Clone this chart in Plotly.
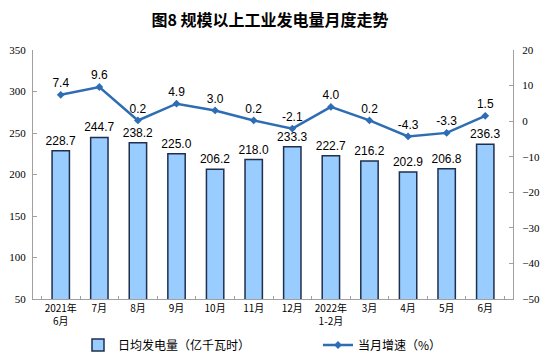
import plotly.graph_objects as go

categories = ["2021年<br>6月", "7月", "8月", "9月", "10月", "11月", "12月",
              "2022年<br>1-2月", "3月", "4月", "5月", "6月"]
daily_output = [228.7, 244.7, 238.2, 225.0, 206.2, 218.0, 233.3, 222.7, 216.2, 202.9, 206.8, 236.3]
growth = [7.4, 9.6, 0.2, 4.9, 3.0, 0.2, -2.1, 4.0, 0.2, -4.3, -3.3, 1.5]

bar_name = "日均发电量（亿千瓦时）"
line_name = "当月增速（%）"

# The page body adds an 8px offset, so the figure is sized 8px smaller each way.
W, H = 545, 353

fig = go.Figure()
fig.add_trace(go.Bar(
    x=categories, y=daily_output, name=bar_name,
    marker=dict(color="#99CCFF", line=dict(color="#1F2F4F", width=1.5)),
    text=[f"{v:.1f}" for v in daily_output], textposition="outside",
    textangle=0, constraintext="none",
    textfont=dict(family="Liberation Sans, Arial", size=12, color="#000"),
    cliponaxis=False,
))
fig.add_trace(go.Scatter(
    x=categories, y=growth, name=line_name, yaxis="y2",
    mode="lines+markers+text",
    line=dict(color="#2E6DB4", width=2.5),
    marker=dict(symbol="diamond", size=6, color="#2E6DB4"),
    text=[f"{v:.1f}" for v in growth], textposition="top center",
    textfont=dict(family="Liberation Sans, Arial", size=12, color="#000"),
    cliponaxis=False,
))

fig.update_layout(
    width=W, height=H,
    margin=dict(l=25, r=40, t=42, b=62),
    paper_bgcolor="white", plot_bgcolor="white",
    title=dict(text="<b>图8 规模以上工业发电量月度走势</b>", x=262 / W, xanchor="center",
               y=1 - 12 / H, yref="container", yanchor="middle",
               font=dict(family="Noto Sans CJK SC", size=16, color="#000")),
    bargap=0.55,
    showlegend=True,
    legend=dict(orientation="h", x=310 / W, xref="container", xanchor="center",
                y=1 - 337 / H, yref="container", yanchor="middle",
                font=dict(family="Noto Sans CJK SC", size=12, color="#000"),
                entrywidth=195, traceorder="normal"),
    xaxis=dict(
        showline=True, linecolor="#A0A0A0", linewidth=1,
        ticks="inside", tickson="boundaries", ticklen=3, tickcolor="#A0A0A0",
        tickangle=0, automargin=False,
        tickfont=dict(family="Noto Sans CJK SC", size=10, color="#000"),
        showgrid=False,
    ),
    yaxis=dict(
        range=[50, 350], dtick=50, showgrid=False, zeroline=False,
        showline=True, linecolor="#A0A0A0", linewidth=1,
        ticks="inside", ticklen=4, tickcolor="#A0A0A0", automargin=False,
        ticklabelstandoff=4,
        tickfont=dict(family="Liberation Serif, Times New Roman", size=11, color="#000"),
    ),
    yaxis2=dict(
        range=[-50, 20], dtick=10, overlaying="y", side="right", showgrid=False, zeroline=False,
        showline=True, linecolor="#A0A0A0", linewidth=1,
        ticks="inside", ticklen=4, tickcolor="#A0A0A0", automargin=False,
        ticklabelstandoff=6,
        tickfont=dict(family="Liberation Serif, Times New Roman", size=11, color="#000"),
    ),
)

fig.write_html("out.html")
